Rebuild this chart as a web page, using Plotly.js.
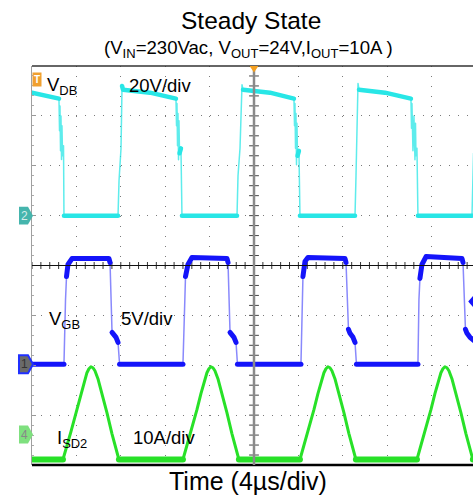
<!DOCTYPE html>
<html><head><meta charset="utf-8">
<script src="https://cdn.plot.ly/plotly-3.0.1.min.js"></script>
<style>html,body{margin:0;padding:0;overflow:hidden;background:#fff}
.js-line{stroke-linecap:round;stroke-linejoin:round}</style>
</head><body><div id="chart" style="width:473px;height:498px"></div>
<script>
// ---------- Data read from the scope capture (time in µs, trigger at 0, 4 µs/div) ----------
// Channel 2: V_DB (20 V/div)
const vdbTime = [-20.00,-18.38,-17.57,-17.52,-17.48,-17.43,-17.39,-17.34,-17.30,-17.25,-17.16,-17.12,
  -12.25,-12.16,-12.07,-11.98,-11.89,-11.80,-9.37,-7.03,
  -6.98,-6.94,-6.89,-6.85,-6.80,-6.76,-6.71,-6.58,-6.49,
  -1.53,-1.44,-1.35,-1.26,-1.08,-0.99,1.44,3.60,
  3.65,3.69,3.74,3.78,3.83,3.87,3.92,4.05,4.14,
  9.10,9.19,9.24,9.28,9.37,9.46,11.80,14.14,
  14.19,14.23,14.32,14.41,14.50,14.55,14.59,14.68,14.77,
  19.64,19.73,19.78];
const vdbVolts = [49.3,47.7,46.9,34.0,44.0,26.0,40.0,22.5,36.0,24.0,28.0,0.0,
  0.0,14.0,24.0,27.0,52.0,50.5,49.3,46.9,
  36.0,45.0,28.0,41.0,22.4,38.0,25.0,27.0,0.0,
  0.0,16.0,24.0,27.0,52.5,50.5,49.3,46.9,
  36.0,45.0,27.0,41.0,20.4,37.0,24.0,26.0,0.0,
  0.0,16.0,25.0,27.0,53.0,50.5,49.3,46.9,
  35.0,45.0,26.0,40.0,22.4,37.0,24.0,27.0,0.0,
  0.0,19.6,25.0];

// Channel 1: V_GB (5 V/div)
const vgbTime = [-20.00,-17.12,-16.98,-16.89,-16.76,-16.40,-13.07,-12.97,-12.79,-12.70,-12.43,-12.25,-12.11,
  -6.40,-6.26,-6.17,-5.95,-5.59,-2.43,-2.34,-2.16,-2.07,-1.80,-1.62,-1.49,
  4.23,4.32,4.41,4.59,4.86,8.20,8.29,8.51,8.65,8.92,9.10,9.23,
  14.77,14.86,14.95,15.13,15.50,18.74,18.83,19.05,19.19,19.46,19.73,20.00];
const vgbVolts = [0.0,0.0,6.5,8.8,10.0,10.6,10.6,10.2,3.2,3.1,2.7,2.2,0.0,
  0.0,6.5,8.8,10.0,10.7,10.6,10.2,3.2,3.1,2.7,2.2,0.0,
  0.0,6.5,8.8,10.3,10.7,10.6,10.2,3.5,3.1,2.7,2.2,0.0,
  0.0,6.5,8.6,10.0,10.8,10.6,10.2,3.5,3.1,2.7,2.4,2.2];

// Channel 4: I_SD2 (10 A/div)
const isdTime = [-20.00,
  -17.21,-16.49,-15.95,-15.59,-15.32,-15.05,-14.87,-14.69,-14.51,-14.33,-14.06,-13.70,-13.25,-12.80,-12.26,-12.17,
  -6.40,-5.68,-5.14,-4.78,-4.51,-4.24,-4.06,-3.88,-3.70,-3.52,-3.25,-2.89,-2.44,-1.99,-1.45,-1.36,
  4.14,4.86,5.40,5.76,6.03,6.30,6.48,6.66,6.84,7.02,7.29,7.65,8.10,8.55,9.09,9.18,
  14.68,15.40,15.94,16.30,16.57,16.84,17.02,17.20,17.38,17.56,17.83,18.19,18.64,19.09,19.63,19.72,20.00];
const isdAmps = [-5.0,
  -5.0,0.6,5.0,8.2,10.6,12.4,13.2,13.6,13.4,12.8,11.2,8.4,4.4,0.2,-4.6,-5.0,
  -5.0,0.6,5.0,8.2,10.6,12.4,13.2,13.6,13.4,12.8,11.2,8.4,4.4,0.2,-4.6,-5.0,
  -5.0,0.6,5.0,8.2,10.6,12.4,13.2,13.6,13.4,12.8,11.2,8.4,4.4,0.2,-4.6,-5.0,
  -5.0,0.6,5.0,8.2,10.6,12.4,13.2,13.6,13.4,12.8,11.2,8.4,4.4,0.2,-4.6,-5.0,-5.0];

// channel settings: units per division and ground position (in divisions from centre)
const vdbScale = 20, vgbScale = 5, isdScale = 10;
const vdbOffset = 1.0, vgbOffset = -1.98, isdOffset = -3.39;

// ---------- helpers ----------
function rangeFor(scale, off){ return [(-4 - off) * scale, (4 - off) * scale]; }
// slow (plateau) segments are drawn bright and thick, fast edges thin, like a scope display
function slowParts(t, v, scale, thr){
  const xs = [], ys = []; let last = -1;
  for (let i = 0; i < t.length - 1; i++){
    const slope = Math.abs((v[i+1] - v[i]) / scale / (t[i+1] - t[i]));
    if (slope <= thr){
      if (last !== i){ if (xs.length){ xs.push(null); ys.push(null); } xs.push(t[i]); ys.push(v[i]); }
      xs.push(t[i+1]); ys.push(v[i+1]); last = i + 1;
    }
  }
  return [xs, ys];
}

const cyan = 'rgb(40,230,230)', blue = 'rgb(20,20,250)', green = 'rgb(40,225,40)';
const traces = [];
function addChannel(t, v, scale, thr, yax, color, thin, thick, thinOp){
  traces.push({x: t, y: v, yaxis: yax, type: 'scatter', mode: 'lines', hoverinfo: 'skip',
    line: {color: color, width: thin}, opacity: thinOp, showlegend: false});
  const p = slowParts(t, v, scale, thr);
  traces.push({x: p[0], y: p[1], yaxis: yax, type: 'scatter', mode: 'lines', hoverinfo: 'skip',
    line: {color: color, width: thick}, connectgaps: false, showlegend: false});
}
addChannel(vdbTime, vdbVolts, vdbScale, 1.0, 'y2', cyan, 1.5, 4.5, 0.75);
addChannel(vgbTime, vgbVolts, vgbScale, 2.5, 'y3', blue, 1.5, 5, 0.5);
addChannel(isdTime, isdAmps, isdScale, 0.05, 'y4', green, 3, 6, 1);

// centre cross-hair graticule ticks
const hx = [], hy = [], vx = [], vy = [];
for (let k = 0; k <= 49; k++){ hx.push(-20 + k * 0.8); hy.push(0); }
for (let k = 0; k <= 40; k++){ vy.push(-4 + k * 0.2); vx.push(0); }
traces.push({x: hx, y: hy, mode: 'markers', hoverinfo: 'skip', showlegend: false, cliponaxis: true,
  marker: {symbol: 'line-ns', size: 5, line: {color: '#333', width: 1}}});
traces.push({x: vx, y: vy, mode: 'markers', hoverinfo: 'skip', showlegend: false, cliponaxis: true,
  marker: {symbol: 'line-ew', size: 7, line: {color: '#444', width: 1}}});

const F = 'Liberation Sans, Arial, sans-serif';
function chanMarker(off, fill, lineColor, lineW){
  const h = 0.18;
  return {type: 'path', xref: 'paper', yref: 'y', layer: 'above',
    path: `M -0.0295,${off + h} L -0.0091,${off + h} L 0.0023,${off} L -0.0091,${off - h} L -0.0295,${off - h} Z`,
    fillcolor: fill, line: {color: lineColor, width: lineW}};
}
const shapes = [
  {type: 'line', xref: 'paper', yref: 'paper', x0: 0, x1: 1, y0: 1, y1: 1, line: {color: '#333', width: 1.5}},
  {type: 'line', xref: 'paper', yref: 'paper', x0: 0, x1: 1, y0: 0, y1: 0, line: {color: '#000', width: 2.5}},
  {type: 'line', xref: 'paper', yref: 'y', x0: 0, x1: 1, y0: 0, y1: 0, line: {color: '#111', width: 1}},
  {type: 'line', xref: 'x', yref: 'paper', x0: 0, x1: 0, y0: 0, y1: 1, line: {color: '#8a8a8a', width: 2.5}},
  {type: 'path', xref: 'x', yref: 'paper', path: 'M -0.4,1 L 0.4,1 L 0,0.984 Z', fillcolor: '#f5a020', line: {width: 0}},
  {type: 'path', xref: 'x', yref: 'y', path: 'M 19.73,-0.61 L 19.30,-0.72 L 19.73,-0.83 Z', fillcolor: blue, line: {width: 0}},
  chanMarker(vdbOffset, '#45b5ad', '#45b5ad', 0),
  chanMarker(vgbOffset, '#6a6a6a', '#2030ff', 2),
  chanMarker(isdOffset, '#7fe07f', '#7fe07f', 0)
];

function txt(x, y, text, size, extra){
  return Object.assign({x: x, y: y, xref: 'x', yref: 'y', text: text, showarrow: false,
    xanchor: 'left', yanchor: 'middle', font: {family: F, size: size, color: '#000'}}, extra || {});
}
const annotations = [
  txt(0.4955, 1.1128, 'Steady State', 24.5, {xref: 'paper', yref: 'paper', xanchor: 'center'}),
  txt(0.4909, 1.0414, '(V<sub>IN</sub>=230Vac, V<sub>OUT</sub>=24V,I<sub>OUT</sub>=10A )', 18.6, {xref: 'paper', yref: 'paper', xanchor: 'center'}),
  txt(0.4909, -0.0401, 'Time (4µs/div)', 25, {xref: 'paper', yref: 'paper', xanchor: 'center'}),
  txt(-18.83, 3.60, 'V<sub>DB</sub>', 18.5),
  txt(-11.40, 3.61, '20V/div', 18.5),
  txt(-18.65, -1.09, 'V<sub>GB</sub>', 18.5),
  txt(-12.20, -1.06, '5V/div', 18.5),
  txt(-17.93, -3.48, 'I<sub>SD2</sub>', 18.5),
  txt(-11.05, -3.45, '10A/div', 18.5),
  txt(0, 3.72, '<b>T</b>', 10, {xref: 'paper', xanchor: 'left', xshift: 0, bgcolor: '#f0a030', borderpad: 1, font: {family: F, size: 10, color: '#fff'}}),
  txt(-0.018, vdbOffset, '2', 12, {xref: 'paper', xanchor: 'center', font: {family: F, size: 12, color: '#d6ecea'}}),
  txt(-0.018, vgbOffset, '1', 12, {xref: 'paper', xanchor: 'center', font: {family: F, size: 12, color: '#333'}}),
  txt(-0.018, isdOffset, '4', 12, {xref: 'paper', xanchor: 'center', font: {family: F, size: 12, color: '#888'}})
];

const hiddenY = (r) => ({range: r, overlaying: 'y', visible: false, fixedrange: true});
const layout = {
  width: 473, height: 498,
  margin: {l: 32, r: 0, t: 66, b: 33},
  paper_bgcolor: '#fff', plot_bgcolor: '#fff',
  showlegend: false,
  xaxis: {range: [-20, 19.73], tick0: 0, dtick: 4, showgrid: true, gridcolor: '#7a7a7a', gridwidth: 1,
    griddash: '1px,8.98px', zeroline: false, showticklabels: false, ticks: '', showline: false, fixedrange: true},
  yaxis: {range: [-4, 4], tick0: 0, dtick: 1, showgrid: true, gridcolor: '#7a7a7a', gridwidth: 1,
    griddash: '1px,7.88px', zeroline: false, showticklabels: false, showline: true, linecolor: '#a0a0a0',
    linewidth: 1.5, ticks: 'inside', ticklen: 4, tickcolor: '#999',
    minor: {dtick: 0.2, ticks: 'inside', ticklen: 2, tickcolor: '#aaa', showgrid: false}, fixedrange: true},
  yaxis2: hiddenY(rangeFor(vdbScale, vdbOffset)),
  yaxis3: hiddenY(rangeFor(vgbScale, vgbOffset)),
  yaxis4: hiddenY(rangeFor(isdScale, isdOffset)),
  shapes: shapes,
  annotations: annotations
};
Plotly.newPlot('chart', traces, layout, {staticPlot: true, displayModeBar: false});
</script></body></html>
